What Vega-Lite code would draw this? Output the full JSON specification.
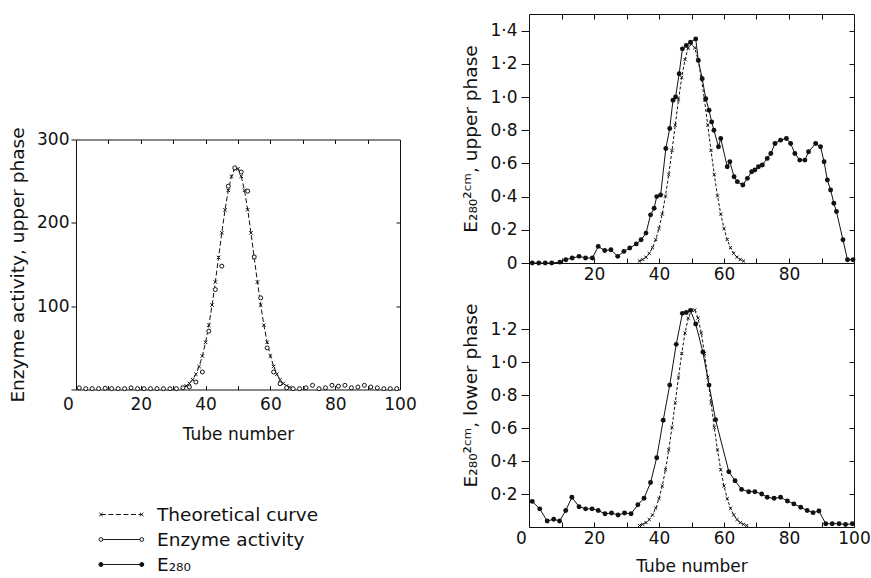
{
  "$schema": "https://vega.github.io/schema/vega-lite/v6.json",
  "background": "white",
  "padding": {"left": 8, "top": 13, "right": 5, "bottom": 0},
  "bounds": "flush",
  "spacing": 453,
  "datasets": {
    "enzyme": [
      {"tube":1,"value":2},{"tube":3,"value":1},{"tube":5,"value":1},{"tube":7,"value":1},{"tube":9,"value":1.5},{"tube":11,"value":1},{"tube":13,"value":1},{"tube":15,"value":1},{"tube":17,"value":2},{"tube":19,"value":1},{"tube":21,"value":1},{"tube":23,"value":1},{"tube":25,"value":1},{"tube":27,"value":1},{"tube":29,"value":1},{"tube":31,"value":1},{"tube":33,"value":2},{"tube":35,"value":3},{"tube":37,"value":9},{"tube":39,"value":21},{"tube":41,"value":70},{"tube":43,"value":120},{"tube":45,"value":148},{"tube":47,"value":244},{"tube":49,"value":266},{"tube":51,"value":261},{"tube":53,"value":238},{"tube":55,"value":159},{"tube":57,"value":110},{"tube":59,"value":50},{"tube":61,"value":21},{"tube":63,"value":7},{"tube":65,"value":2},{"tube":67,"value":1},{"tube":69,"value":1},{"tube":71,"value":2},{"tube":73,"value":5},{"tube":75,"value":1},{"tube":77,"value":2},{"tube":79,"value":5},{"tube":81,"value":4},{"tube":83,"value":5},{"tube":85,"value":2},{"tube":87,"value":3},{"tube":89,"value":5},{"tube":91,"value":3},{"tube":93,"value":2},{"tube":95,"value":1},{"tube":97,"value":1},{"tube":99,"value":1}
    ],
    "theo_left": [
      {"tube":33,"value":2.5},{"tube":34,"value":4.3},{"tube":35,"value":7.2},{"tube":36,"value":11.7},{"tube":37,"value":18.3},{"tube":38,"value":27.6},{"tube":39,"value":40.2},{"tube":40,"value":56.6},{"tube":41,"value":77.1},{"tube":42,"value":101.4},{"tube":43,"value":128.9},{"tube":44,"value":158.4},{"tube":45,"value":188},{"tube":46,"value":215.6},{"tube":47,"value":239},{"tube":48,"value":255.9},{"tube":49,"value":264.9},{"tube":50,"value":264.9},{"tube":51,"value":255.9},{"tube":52,"value":239},{"tube":53,"value":215.6},{"tube":54,"value":188},{"tube":55,"value":158.4},{"tube":56,"value":128.9},{"tube":57,"value":101.4},{"tube":58,"value":77.1},{"tube":59,"value":56.6},{"tube":60,"value":40.2},{"tube":61,"value":27.6},{"tube":62,"value":18.3},{"tube":63,"value":11.7},{"tube":64,"value":7.2},{"tube":65,"value":4.3},{"tube":66,"value":2.5}
    ],
    "theo_upper": [
      {"tube":34,"value":0.012},{"tube":35,"value":0.021},{"tube":36,"value":0.035},{"tube":37,"value":0.058},{"tube":38,"value":0.092},{"tube":39,"value":0.141},{"tube":40,"value":0.208},{"tube":41,"value":0.295},{"tube":42,"value":0.404},{"tube":43,"value":0.533},{"tube":44,"value":0.678},{"tube":45,"value":0.831},{"tube":46,"value":0.982},{"tube":47,"value":1.118},{"tube":48,"value":1.226},{"tube":49,"value":1.296},{"tube":50,"value":1.32},{"tube":51,"value":1.296},{"tube":52,"value":1.226},{"tube":53,"value":1.118},{"tube":54,"value":0.982},{"tube":55,"value":0.831},{"tube":56,"value":0.678},{"tube":57,"value":0.533},{"tube":58,"value":0.404},{"tube":59,"value":0.295},{"tube":60,"value":0.208},{"tube":61,"value":0.141},{"tube":62,"value":0.092},{"tube":63,"value":0.058},{"tube":64,"value":0.035},{"tube":65,"value":0.021},{"tube":66,"value":0.012}
    ],
    "e280_upper": [
      {"tube":1,"value":0},{"tube":3,"value":0},{"tube":5,"value":0},{"tube":7,"value":0},{"tube":9.5,"value":0.005},{"tube":11.3,"value":0.02},{"tube":13.3,"value":0.03},{"tube":15.4,"value":0.04},{"tube":17.4,"value":0.03},{"tube":19.5,"value":0.03},{"tube":21.3,"value":0.1},{"tube":23.3,"value":0.075},{"tube":25.2,"value":0.08},{"tube":27.3,"value":0.04},{"tube":29.2,"value":0.07},{"tube":31,"value":0.09},{"tube":33,"value":0.115},{"tube":34.5,"value":0.14},{"tube":36,"value":0.18},{"tube":37.4,"value":0.29},{"tube":38.5,"value":0.33},{"tube":39.3,"value":0.4},{"tube":40.5,"value":0.41},{"tube":42.1,"value":0.69},{"tube":43.3,"value":0.81},{"tube":44.3,"value":0.98},{"tube":45.1,"value":1.0},{"tube":46.2,"value":1.14},{"tube":47.2,"value":1.29},{"tube":48.4,"value":1.31},{"tube":49.7,"value":1.33},{"tube":51.3,"value":1.35},{"tube":52.1,"value":1.22},{"tube":53.3,"value":1.11},{"tube":54.4,"value":0.99},{"tube":55.4,"value":0.92},{"tube":56.2,"value":0.85},{"tube":56.9,"value":0.8},{"tube":58.3,"value":0.7},{"tube":59,"value":0.75},{"tube":61,"value":0.58},{"tube":61.8,"value":0.61},{"tube":63.1,"value":0.52},{"tube":64.1,"value":0.49},{"tube":65.8,"value":0.47},{"tube":67.2,"value":0.51},{"tube":68.5,"value":0.55},{"tube":69.5,"value":0.56},{"tube":70.6,"value":0.58},{"tube":71.8,"value":0.59},{"tube":73.3,"value":0.63},{"tube":74.4,"value":0.66},{"tube":75.7,"value":0.72},{"tube":77.4,"value":0.74},{"tube":79.2,"value":0.75},{"tube":80.5,"value":0.72},{"tube":81.8,"value":0.66},{"tube":83.3,"value":0.62},{"tube":84.9,"value":0.62},{"tube":86,"value":0.67},{"tube":88.2,"value":0.72},{"tube":89.7,"value":0.7},{"tube":90.8,"value":0.61},{"tube":91.8,"value":0.5},{"tube":92.8,"value":0.44},{"tube":93.8,"value":0.36},{"tube":94.6,"value":0.31},{"tube":96.6,"value":0.14},{"tube":98,"value":0.02},{"tube":99.7,"value":0.02}
    ],
    "theo_lower": [
      {"tube":34,"value":0.009},{"tube":35,"value":0.016},{"tube":36,"value":0.027},{"tube":37,"value":0.045},{"tube":38,"value":0.073},{"tube":39,"value":0.114},{"tube":40,"value":0.172},{"tube":41,"value":0.249},{"tube":42,"value":0.347},{"tube":43,"value":0.467},{"tube":44,"value":0.604},{"tube":45,"value":0.754},{"tube":46,"value":0.908},{"tube":47,"value":1.052},{"tube":48,"value":1.176},{"tube":49,"value":1.266},{"tube":50,"value":1.314},{"tube":51,"value":1.314},{"tube":52,"value":1.266},{"tube":53,"value":1.176},{"tube":54,"value":1.052},{"tube":55,"value":0.908},{"tube":56,"value":0.754},{"tube":57,"value":0.604},{"tube":58,"value":0.467},{"tube":59,"value":0.347},{"tube":60,"value":0.249},{"tube":61,"value":0.172},{"tube":62,"value":0.114},{"tube":63,"value":0.073},{"tube":64,"value":0.045},{"tube":65,"value":0.027},{"tube":66,"value":0.016},{"tube":67,"value":0.009}
    ],
    "e280_lower": [
      {"tube":1,"value":0.155},{"tube":3.3,"value":0.11},{"tube":5.6,"value":0.036},{"tube":7.6,"value":0.047},{"tube":9.4,"value":0.036},{"tube":11.3,"value":0.1},{"tube":13.2,"value":0.18},{"tube":15.4,"value":0.123},{"tube":17.4,"value":0.11},{"tube":19.4,"value":0.11},{"tube":21.3,"value":0.1},{"tube":23.4,"value":0.08},{"tube":25.4,"value":0.085},{"tube":27.4,"value":0.073},{"tube":29.4,"value":0.085},{"tube":31.4,"value":0.08},{"tube":33.5,"value":0.135},{"tube":35.4,"value":0.174},{"tube":37.4,"value":0.27},{"tube":39.3,"value":0.42},{"tube":41.3,"value":0.647},{"tube":43.3,"value":0.86},{"tube":45.3,"value":1.107},{"tube":47.2,"value":1.295},{"tube":48.4,"value":1.3},{"tube":49.7,"value":1.313},{"tube":51.3,"value":1.23},{"tube":53.5,"value":1.06},{"tube":55.4,"value":0.86},{"tube":57.4,"value":0.65},{"tube":61.5,"value":0.335},{"tube":63.4,"value":0.28},{"tube":65.4,"value":0.228},{"tube":67.6,"value":0.214},{"tube":69.5,"value":0.214},{"tube":71.6,"value":0.2},{"tube":73.3,"value":0.18},{"tube":75.4,"value":0.174},{"tube":77.4,"value":0.18},{"tube":79.5,"value":0.158},{"tube":81.5,"value":0.14},{"tube":83.6,"value":0.12},{"tube":85.6,"value":0.1},{"tube":87.4,"value":0.087},{"tube":89.2,"value":0.097},{"tube":91.3,"value":0.02},{"tube":93.3,"value":0.02},{"tube":95.4,"value":0.02},{"tube":97.4,"value":0.015},{"tube":99.5,"value":0.02}
    ],
    "legend": [
      {"label":"Theoretical curve"},{"label":"Enzyme activity"},{"label":"E₂₈₀"}
    ],
    "blank": [{"t": ""}]
  },
  "hconcat": [
    {
      "bounds": "flush",
      "spacing": 112.5,
      "vconcat": [
        {
          "width": 324, "height": 12.5,
          "view": {"stroke": null},
          "data": {"name": "blank"},
          "mark": {"type": "text"},
          "encoding": {"text": {"field": "t"}}
        },
        {
          "width": 324, "height": 250,
          "layer": [
            {
              "layer": [
                {
                  "data": {"name": "theo_left"},
                  "mark": {"type": "line", "strokeDash": [5, 2.5], "strokeWidth": 1, "color": "#111"},
                  "encoding": {
                    "x": {"field": "tube", "type": "quantitative", "scale": {"domain": [0, 100], "nice": false},
                      "axis": {"values": [0,10,20,30,40,50,60,70,80,90,100], "tickCount": 30, "labelExpr": "datum.value % 20 == 0 ? datum.label : ''", "labelOverlap": false, "tickSize": -4, "labelPadding": 11, "title": "Tube number", "titlePadding": 14,
                        "labelOffset": {"condition": {"test": "datum.value === 0", "value": -8}, "value": 0}}},
                    "y": {"field": "value", "type": "quantitative", "scale": {"domain": [0, 300], "nice": false},
                      "axis": {"values": [0,100,200,300], "tickCount": 30, "labelExpr": "datum.value == 0 ? '' : datum.label", "labelOverlap": false, "tickSize": 5, "labelPadding": 2, "title": "Enzyme activity, upper phase", "titleFontSize": 18.5, "titlePadding": 9}}
                  }
                },
                {
                  "data": {"name": "theo_left"},
                  "mark": {"type": "point", "shape": "M-1,-1L1,1M-1,1L1,-1", "filled": false, "stroke": "#111", "strokeWidth": 1, "size": 12, "opacity": 1},
                  "encoding": {"x": {"field": "tube", "type": "quantitative"}, "y": {"field": "value", "type": "quantitative"}}
                },
                {
                  "data": {"name": "enzyme"},
                  "mark": {"type": "point", "shape": "circle", "filled": true, "fill": "white", "stroke": "#111", "strokeWidth": 1, "size": 16, "opacity": 1},
                  "encoding": {"x": {"field": "tube", "type": "quantitative"}, "y": {"field": "value", "type": "quantitative"}}
                }
              ]
            },
            {
              "data": {"name": "theo_left"},
              "mark": {"type": "point", "opacity": 0},
              "encoding": {
                "x": {"field": "tube", "type": "quantitative", "axis": {"orient": "top", "values": [10,20,30,40,50,60,70,80,90], "tickCount": 30, "labels": false, "tickSize": -4, "title": null}},
                "y": {"field": "value", "type": "quantitative", "axis": {"orient": "right", "values": [100, 200], "tickCount": 30, "labels": false, "tickSize": -4, "title": null}}
              }
            }
          ],
          "resolve": {"axis": {"x": "independent", "y": "independent"}}
        },
        {
          "width": 324, "height": 75,
          "view": {"stroke": null},
          "data": {"name": "legend"},
          "encoding": {
            "y": {"field": "label", "type": "nominal", "scale": {"type": "point", "padding": 0.5, "domain": ["Theoretical curve", "Enzyme activity", "E₂₈₀"]}, "axis": null}
          },
          "layer": [
            {
              "mark": {"type": "rule", "strokeWidth": 1, "color": "#111"},
              "encoding": {
                "x": {"datum": 7.7, "type": "quantitative", "scale": {"domain": [0, 100], "nice": false}, "axis": null},
                "x2": {"datum": 20.3},
                "strokeDash": {"field": "label", "type": "nominal", "scale": {"domain": ["Theoretical curve", "Enzyme activity", "E₂₈₀"], "range": [[5, 2.5], [1, 0], [1, 0]]}, "legend": null}
              }
            },
            {
              "mark": {"type": "point", "opacity": 1, "strokeWidth": 1, "stroke": "#111", "filled": true},
              "encoding": {
                "x": {"datum": 7.7, "type": "quantitative"},
                "shape": {"field": "label", "type": "nominal", "scale": {"domain": ["Theoretical curve", "Enzyme activity", "E₂₈₀"], "range": ["M-1,-1L1,1M-1,1L1,-1", "circle", "circle"]}, "legend": null},
                "fill": {"field": "label", "type": "nominal", "scale": {"domain": ["Theoretical curve", "Enzyme activity", "E₂₈₀"], "range": ["transparent", "white", "#111"]}, "legend": null},
                "size": {"field": "label", "type": "ordinal", "scale": {"domain": ["Theoretical curve", "Enzyme activity", "E₂₈₀"], "range": [12, 16, 24]}, "legend": null}
              }
            },
            {
              "mark": {"type": "point", "opacity": 1, "strokeWidth": 1, "stroke": "#111", "filled": true},
              "encoding": {
                "x": {"datum": 20.3, "type": "quantitative"},
                "shape": {"field": "label", "type": "nominal", "legend": null},
                "fill": {"field": "label", "type": "nominal", "legend": null},
                "size": {"field": "label", "type": "ordinal", "legend": null}
              }
            },
            {
              "mark": {"type": "text", "align": "left", "baseline": "middle", "fontSize": 18.5, "color": "#111"},
              "encoding": {
                "x": {"datum": 25, "type": "quantitative"},
                "text": {"field": "label"}
              }
            }
          ]
        }
      ]
    },
    {
      "bounds": "flush",
      "spacing": 0,
      "vconcat": [
        {
          "width": 325, "height": 249,
          "layer": [
            {
              "layer": [
                {
                  "data": {"name": "theo_upper"},
                  "mark": {"type": "line", "strokeDash": [3, 2], "strokeWidth": 1, "color": "#111"},
                  "encoding": {
                    "x": {"field": "tube", "type": "quantitative", "scale": {"domain": [0, 100], "nice": false},
                      "axis": {"values": [0,10,20,30,40,50,60,70,80,90,100], "tickCount": 30, "labelExpr": "datum.value % 20 == 0 && datum.value > 0 && datum.value < 100 ? datum.label : ''", "labelOverlap": false, "tickSize": -5, "labelPadding": 8, "title": null}},
                    "y": {"field": "value", "type": "quantitative", "scale": {"domain": [0, 1.5], "nice": false},
                      "axis": {"values": [0, 0.2, 0.4, 0.6, 0.8, 1.0, 1.2, 1.4], "tickCount": 30, "labelExpr": "datum.value == 0 ? '0' : replace(format(datum.value, '.1f'), '.', '·')", "labelOverlap": false, "tickSize": 8, "labelPadding": 4, "title": "E₂₈₀²ᶜᵐ, upper phase", "titleFontSize": 18.5, "titlePadding": 9}}
                  }
                },
                {
                  "data": {"name": "theo_upper"},
                  "mark": {"type": "point", "shape": "M-1,-1L1,1M-1,1L1,-1", "filled": false, "stroke": "#111", "strokeWidth": 1, "size": 10, "opacity": 1},
                  "encoding": {"x": {"field": "tube", "type": "quantitative"}, "y": {"field": "value", "type": "quantitative"}}
                },
                {
                  "data": {"name": "e280_upper"},
                  "mark": {"type": "line", "strokeWidth": 1, "color": "#111"},
                  "encoding": {"x": {"field": "tube", "type": "quantitative"}, "y": {"field": "value", "type": "quantitative"}}
                },
                {
                  "data": {"name": "e280_upper"},
                  "mark": {"type": "point", "shape": "circle", "filled": true, "color": "#111", "size": 24, "opacity": 1},
                  "encoding": {"x": {"field": "tube", "type": "quantitative"}, "y": {"field": "value", "type": "quantitative"}}
                }
              ]
            },
            {
              "data": {"name": "theo_upper"},
              "mark": {"type": "point", "opacity": 0},
              "encoding": {
                "x": {"field": "tube", "type": "quantitative", "axis": {"orient": "top", "values": [10,20,30,40,50,60,70,80,90], "tickCount": 30, "labels": false, "tickSize": -5, "title": null}},
                "y": {"field": "value", "type": "quantitative", "axis": {"orient": "right", "values": [0.2, 0.4, 0.6, 0.8, 1.0, 1.2, 1.4], "tickCount": 30, "labels": false, "tickSize": -5, "title": null}}
              }
            }
          ],
          "resolve": {"axis": {"x": "independent", "y": "independent"}}
        },
        {
          "width": 325, "height": 264,
          "layer": [
            {
              "layer": [
                {
                  "data": {"name": "theo_lower"},
                  "mark": {"type": "line", "strokeDash": [3, 2], "strokeWidth": 1, "color": "#111"},
                  "encoding": {
                    "x": {"field": "tube", "type": "quantitative", "scale": {"domain": [0, 100], "nice": false},
                      "axis": {"values": [0,10,20,30,40,50,60,70,80,90,100], "tickCount": 30, "labelExpr": "datum.value % 20 == 0 ? datum.label : ''", "labelOverlap": false, "tickSize": -5, "labelPadding": 8, "title": "Tube number", "titlePadding": 12,
                        "labelOffset": {"condition": {"test": "datum.value === 0", "value": -8}, "value": 0}}},
                    "y": {"field": "value", "type": "quantitative", "scale": {"domain": [0, 1.6], "nice": false},
                      "axis": {"values": [0.2, 0.4, 0.6, 0.8, 1.0, 1.2], "tickCount": 30, "labelExpr": "replace(format(datum.value, '.1f'), '.', '·')", "labelOverlap": false, "tickSize": 8, "labelPadding": 4, "title": "E₂₈₀²ᶜᵐ, lower phase", "titleFontSize": 18.5, "titlePadding": 9}}
                  }
                },
                {
                  "data": {"name": "theo_lower"},
                  "mark": {"type": "point", "shape": "M-1,-1L1,1M-1,1L1,-1", "filled": false, "stroke": "#111", "strokeWidth": 1, "size": 10, "opacity": 1},
                  "encoding": {"x": {"field": "tube", "type": "quantitative"}, "y": {"field": "value", "type": "quantitative"}}
                },
                {
                  "data": {"name": "e280_lower"},
                  "mark": {"type": "line", "strokeWidth": 1, "color": "#111"},
                  "encoding": {"x": {"field": "tube", "type": "quantitative"}, "y": {"field": "value", "type": "quantitative"}}
                },
                {
                  "data": {"name": "e280_lower"},
                  "mark": {"type": "point", "shape": "circle", "filled": true, "color": "#111", "size": 24, "opacity": 1},
                  "encoding": {"x": {"field": "tube", "type": "quantitative"}, "y": {"field": "value", "type": "quantitative"}}
                }
              ]
            },
            {
              "data": {"name": "theo_lower"},
              "mark": {"type": "point", "opacity": 0},
              "encoding": {
                "y": {"field": "value", "type": "quantitative", "axis": {"orient": "right", "values": [0.2, 0.4, 0.6, 0.8, 1.0, 1.2], "tickCount": 30, "labels": false, "tickSize": -5, "title": null}}
              }
            }
          ],
          "resolve": {"axis": {"x": "independent", "y": "independent"}}
        }
      ]
    }
  ],
  "config": {
    "font": "DejaVu Sans",
    "view": {"stroke": "#111", "strokeWidth": 1},
    "axis": {
      "domain": false, "grid": false,
      "tickColor": "#111", "tickWidth": 1,
      "labelColor": "#111", "titleColor": "#111",
      "labelFont": "DejaVu Sans", "titleFont": "DejaVu Sans",
      "labelFontSize": 17, "titleFontSize": 17, "titleFontWeight": "normal",
      "labelFlush": false, "labelOverlap": false
    },
    "text": {"font": "DejaVu Sans"}
  }
}
